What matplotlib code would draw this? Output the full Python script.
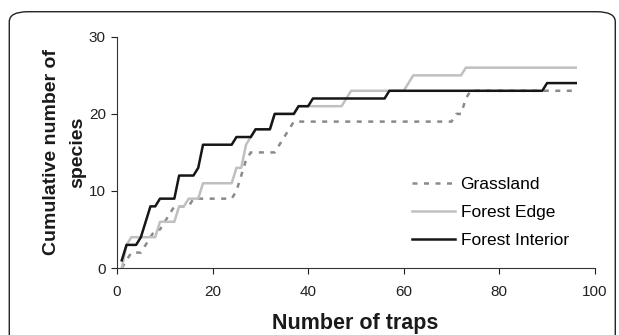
import matplotlib.pyplot as plt
from matplotlib.patches import FancyBboxPatch

plt.rcParams['font.family'] = ['Liberation Sans', 'DejaVu Sans']

# trap number 1..96
traps = list(range(1, 97))

# cumulative species per trap
grassland = ([0, 1, 2, 2, 2, 3, 4, 5, 5, 6, 7, 8, 8, 8, 8]
             + [9] * 9
             + [10, 12, 14]
             + [15] * 6
             + [16, 17, 18, 19]
             + [19] * 33
             + [20, 20, 22]
             + [23] * 23)

forest_edge = ([0, 3, 4, 4, 4, 4, 4, 4, 6, 6, 6, 6, 8, 8, 9, 9, 9]
               + [11] * 7
               + [13, 13, 16, 17]
               + [18] * 4
               + [20] * 5
               + [21] * 10
               + [22]
               + [23] * 12
               + [24]
               + [25] * 11
               + [26] * 24)

forest_interior = ([1, 3, 3, 3, 4, 6, 8, 8, 9, 9, 9, 9, 12, 12, 12, 12, 13]
                   + [16] * 7
                   + [17] * 4
                   + [18] * 4
                   + [20] * 5
                   + [21] * 3
                   + [22] * 16
                   + [23] * 33
                   + [24] * 7)

xticks = [0, 20, 40, 60, 80, 100]
yticks = [0, 10, 20, 30]

fig = plt.figure(figsize=(6.19, 3.35), dpi=100)
ax = fig.add_axes([0.189, 0.2, 0.772, 0.69])

ax.plot(traps, grassland, color='#8a8a8a', lw=1.8, dashes=(2, 2.6), label='Grassland')
ax.plot(traps, forest_edge, color='#c0c0c0', lw=1.8, label='Forest Edge')
ax.plot(traps, forest_interior, color='#161616', lw=1.8, label='Forest Interior')

ax.set_xlim(0, 100)
ax.set_ylim(0, 30)
ax.set_xticks(xticks)
ax.set_yticks(yticks)
ax.tick_params(labelsize=11, length=4, width=0.8, direction='out', colors='#222222')
ax.tick_params(axis='x', pad=8)
ax.tick_params(axis='y', pad=4)
for s in ['top', 'right']:
    ax.spines[s].set_visible(False)
for s in ['left', 'bottom']:
    ax.spines[s].set_color('#333333')
    ax.spines[s].set_linewidth(0.8)

ax.set_xlabel('Number of traps', fontsize=15.5, fontweight='bold', color='#1a1a1a')
ax.xaxis.set_label_coords(0.498, -0.195)
ax.set_ylabel('Cumulative number of\nspecies', fontsize=14, fontweight='bold',
              color='#1a1a1a', linespacing=1.7)
ax.yaxis.set_label_coords(-0.065, 0.5)

ax.legend(loc='upper left', bbox_to_anchor=(412 / 619, 1 - 177 / 335),
          bbox_transform=fig.transFigure, frameon=False, borderpad=0,
          borderaxespad=0, fontsize=12.5, handlelength=2.5,
          handletextpad=0.3, labelspacing=0.75)

# rounded frame round the whole figure
frame = FancyBboxPatch((0.015, -0.1), 0.979, 1.065, transform=fig.transFigure,
                       boxstyle='round,pad=0,rounding_size=0.03',
                       fill=False, ec='#222222', lw=1.0, clip_on=False)
fig.patches.append(frame)

fig.savefig('out.png', dpi=100)
